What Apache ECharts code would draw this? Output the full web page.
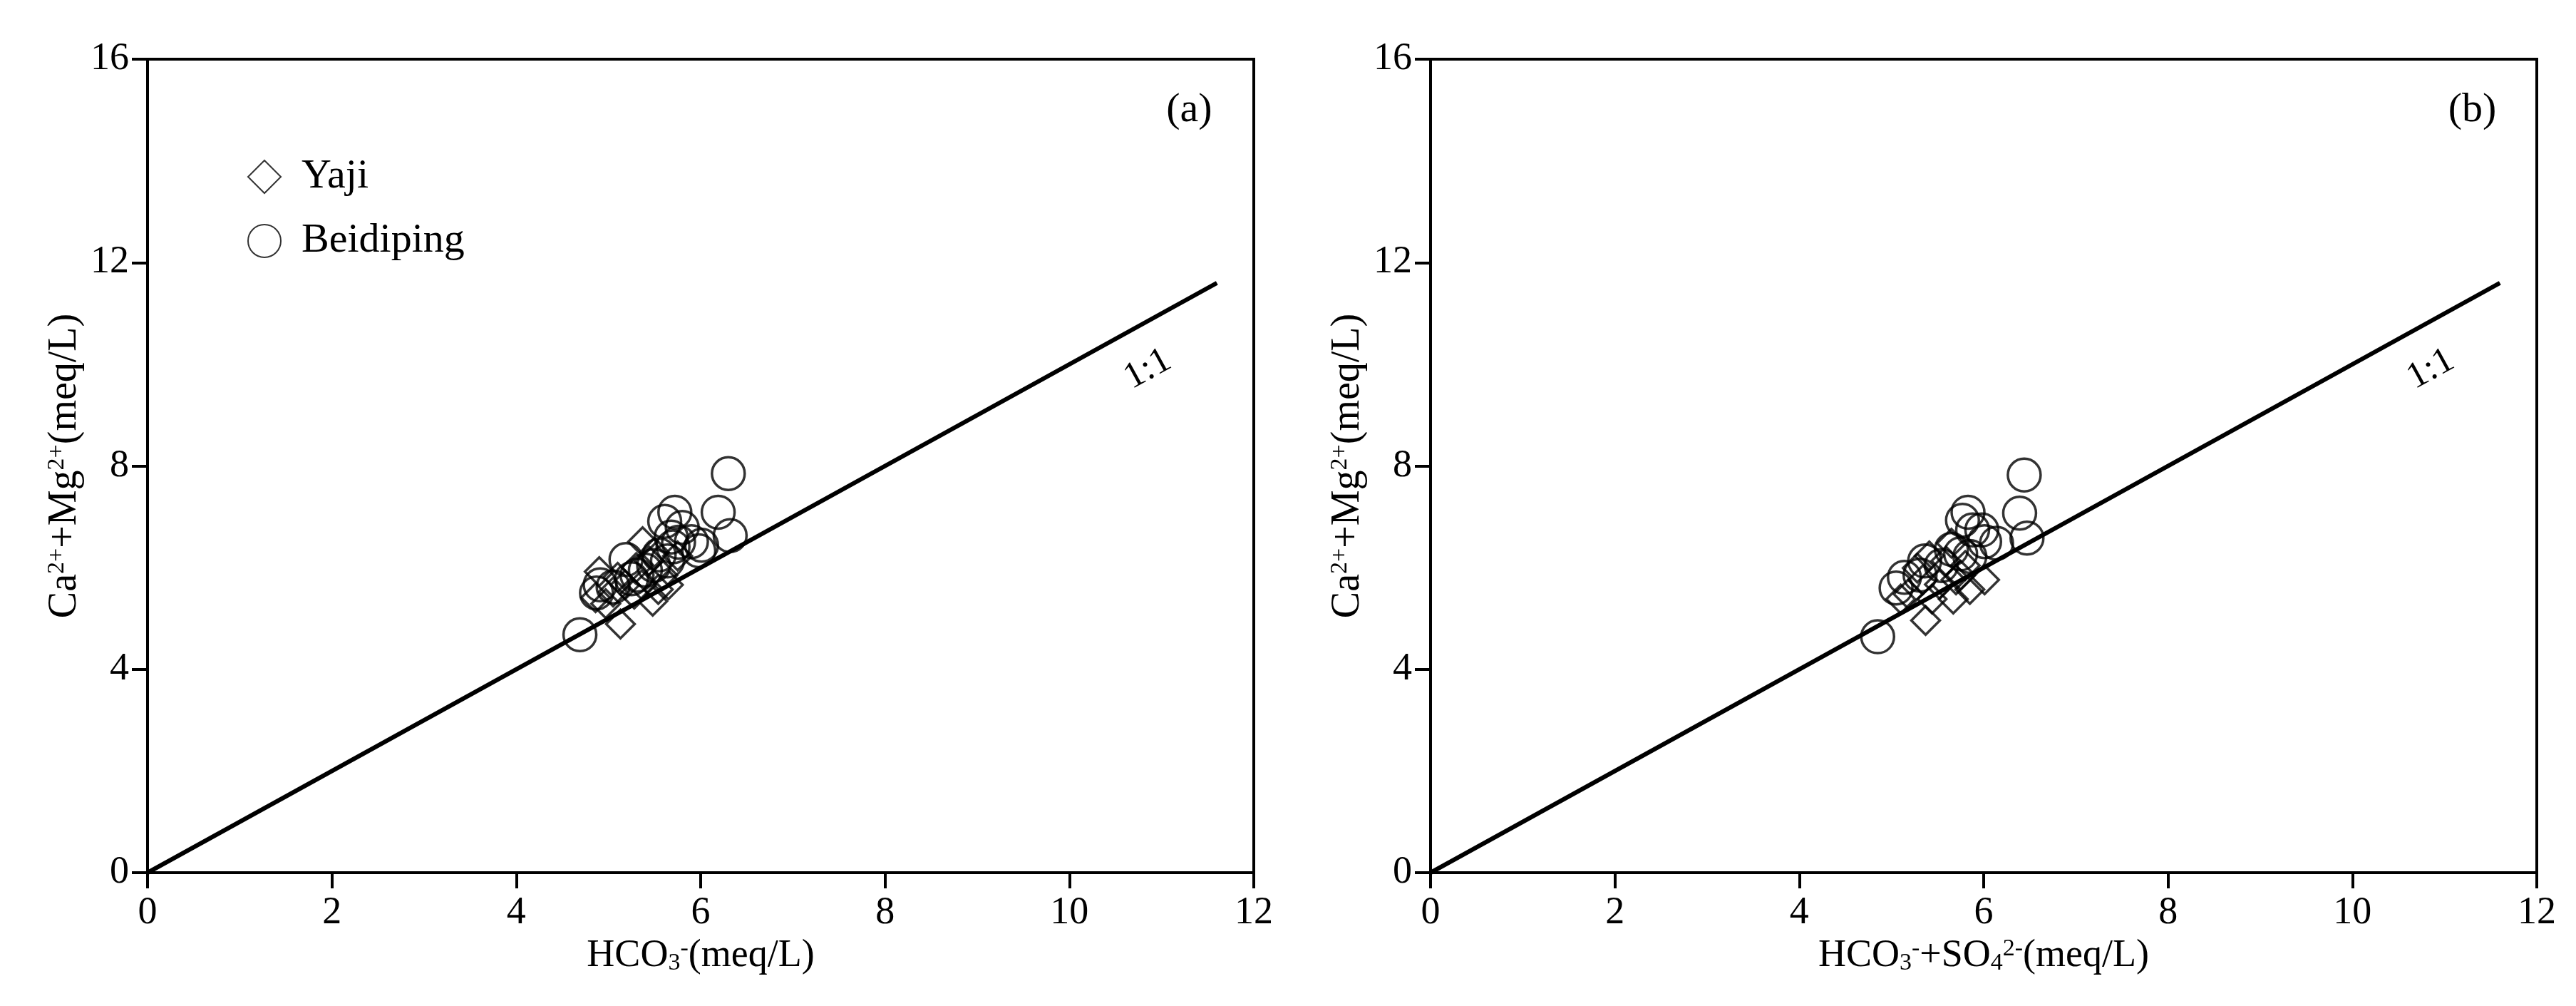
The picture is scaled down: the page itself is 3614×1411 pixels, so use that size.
<!DOCTYPE html>
<html><head><meta charset="utf-8">
<script src="https://cdn.jsdelivr.net/npm/echarts@6/dist/echarts.min.js"></script>
<style>html,body{margin:0;padding:0;background:#fff}#c{width:3614px;height:1411px}</style>
</head><body><div id="c"></div>
<script>
// ---- data ----
const xTicks = [0, 2, 4, 6, 8, 10, 12];
const yTicks = [0, 4, 8, 12, 16];
const seriesNames = ['Yaji', 'Beidiping'];
const panelLabels = ['(a)', '(b)'];
const ratioLabel = '1:1';
const oneToOne = [[0, 0], [11.6, 11.6]];

// panel (a): HCO3- vs Ca2+ + Mg2+
const yajiA = [[4.86,5.41],[4.90,5.92],[4.97,5.29],[5.05,5.52],[5.10,5.81],[5.13,4.89],[5.18,5.66],[5.28,5.48],[5.36,5.66],[5.37,6.51],[5.44,6.13],[5.48,5.34],[5.54,5.57],[5.59,5.85],[5.65,5.66],[5.75,6.23],[5.30,6.00],[5.50,6.30]];
const beidipingA = [[4.69,4.68],[4.87,5.50],[4.91,5.66],[5.05,5.62],[5.19,6.16],[5.31,5.85],[5.49,6.04],[5.64,6.13],[5.70,6.41],[5.61,6.91],[5.72,7.09],[5.80,6.79],[5.68,6.60],[5.90,6.51],[6.01,6.44],[5.98,6.33],[6.19,7.09],[6.30,7.85],[6.32,6.63],[5.40,5.95],[5.55,6.25],[5.76,6.50],[5.25,5.78]];

// panel (b): HCO3- + SO42- vs Ca2+ + Mg2+
const yajiB = [[5.37,4.96],[5.67,5.38],[6.01,5.76],[5.65,6.48],[5.34,5.76],[5.18,5.48],[5.52,5.67],[5.75,5.85],[5.28,5.99],[5.44,5.38],[5.10,5.38],[5.80,6.04],[5.59,6.13],[5.41,6.23],[5.85,5.57],[5.70,5.76]];
const beidipingB = [[6.44,7.82],[6.39,7.07],[6.47,6.58],[5.83,7.09],[5.77,6.93],[6.14,6.48],[5.98,6.74],[5.88,6.74],[5.36,6.13],[5.14,5.81],[5.05,5.60],[4.85,4.64],[5.75,6.27],[5.54,6.04],[5.65,6.36],[6.01,6.51],[5.31,5.85],[5.85,6.22]];

const xNames = [
  '{n|HCO}{sb|3}{sp|-}{n|(meq/L)}',
  '{n|HCO}{sb|3}{sp|-}{n|+SO}{sb|4}{sp|2-}{n|(meq/L)}'
];
const yName = '{n|Ca}{sp|2+}{n|+Mg}{sp|2+}{n|(meq/L)}';

// ---- styling ----
const FONT = '"Liberation Serif", "Times New Roman", serif';
const richX = {
  n: {fontSize: 54, fontFamily: FONT, color: '#000'},
  sb: {fontSize: 34, fontFamily: FONT, color: '#000', verticalAlign: 'bottom'},
  sp: {fontSize: 34, fontFamily: FONT, color: '#000', verticalAlign: 'top'}
};
const richY = {
  n: {fontSize: 56, fontFamily: FONT, color: '#000'},
  sp: {fontSize: 34, fontFamily: FONT, color: '#000', verticalAlign: 'top'}
};

const chart = echarts.init(document.getElementById('c'), null, {renderer: 'canvas'});
const gridLefts = [207, 2007];
const grids = gridLefts.map(l => ({
  left: l, top: 83, width: 1552, height: 1141,
  show: true, borderColor: '#000', borderWidth: 4, backgroundColor: 'rgba(0,0,0,0)'
}));

function xAxisFor(i) {
  return {
    type: 'value', gridIndex: i,
    min: xTicks[0], max: xTicks[xTicks.length - 1], interval: xTicks[1] - xTicks[0],
    axisLine: {show: true, onZero: false, lineStyle: {color: '#000', width: 4}},
    axisTick: {show: true, inside: false, length: 22, lineStyle: {color: '#000', width: 4}},
    axisLabel: {margin: 30, fontSize: 54, fontFamily: FONT, color: '#000'},
    splitLine: {show: false},
    name: xNames[i], nameLocation: 'middle', nameGap: 90,
    nameTextStyle: {rich: richX}
  };
}
function yAxisFor(i) {
  return {
    type: 'value', gridIndex: i,
    min: yTicks[0], max: yTicks[yTicks.length - 1], interval: yTicks[1] - yTicks[0],
    axisLine: {show: true, onZero: false, lineStyle: {color: '#000', width: 4}},
    axisTick: {show: true, inside: false, length: 22, lineStyle: {color: '#000', width: 4}},
    axisLabel: {margin: 26, fontSize: 54, fontFamily: FONT, color: '#000'},
    splitLine: {show: false},
    name: yName, nameLocation: 'middle', nameGap: 88, nameRotate: 90,
    nameTextStyle: {rich: richY}
  };
}

const markerStyle = {color: 'rgba(0,0,0,0)', borderColor: '#000', borderWidth: 3.5};
function panelSeries(i, yaji, beid) {
  return [
    {type: 'line', xAxisIndex: i, yAxisIndex: i, data: oneToOne, symbol: 'none', silent: true,
     lineStyle: {color: '#000', width: 6}, z: 1, legendHoverLink: false},
    {type: 'scatter', name: seriesNames[0], xAxisIndex: i, yAxisIndex: i, data: yaji,
     symbol: 'diamond', symbolSize: 40, itemStyle: markerStyle, z: 3},
    {type: 'scatter', name: seriesNames[1], xAxisIndex: i, yAxisIndex: i, data: beid,
     symbol: 'circle', symbolSize: 46, itemStyle: markerStyle, z: 3}
  ];
}

chart.setOption({
  animation: false,
  backgroundColor: '#fff',
  grid: grids,
  xAxis: [xAxisFor(0), xAxisFor(1)],
  yAxis: [yAxisFor(0), yAxisFor(1)],
  legend: {
    data: seriesNames, orient: 'vertical', left: 342, top: 213,
    itemWidth: 46, itemHeight: 46, itemGap: 30,
    textStyle: {fontSize: 58, fontFamily: FONT, color: '#000', lineHeight: 60, padding: [0, 0, 0, 24]},
    selectedMode: false
  },
  series: panelSeries(0, yajiA, beidipingA).concat(panelSeries(1, yajiB, beidipingB))
});

// text annotations placed through the axes' own scales
const ratioPos = [10.85, 9.9];
const panelPos = [11.3, 15.0];
const angle = Math.atan2(1141 / 16, 1552 / 12);
const graphics = [];
[0, 1].forEach(i => {
  const r = chart.convertToPixel({gridIndex: i}, ratioPos);
  graphics.push({type: 'text', x: r[0], y: r[1], rotation: angle,
    style: {text: ratioLabel, fontSize: 52, fontFamily: FONT, fill: '#000', align: 'center', verticalAlign: 'middle'}});
  const p = chart.convertToPixel({gridIndex: i}, panelPos);
  graphics.push({type: 'text', x: p[0], y: p[1],
    style: {text: panelLabels[i], fontSize: 58, fontFamily: FONT, fill: '#000', align: 'center', verticalAlign: 'middle'}});
});
chart.setOption({graphic: graphics});
</script></body></html>
